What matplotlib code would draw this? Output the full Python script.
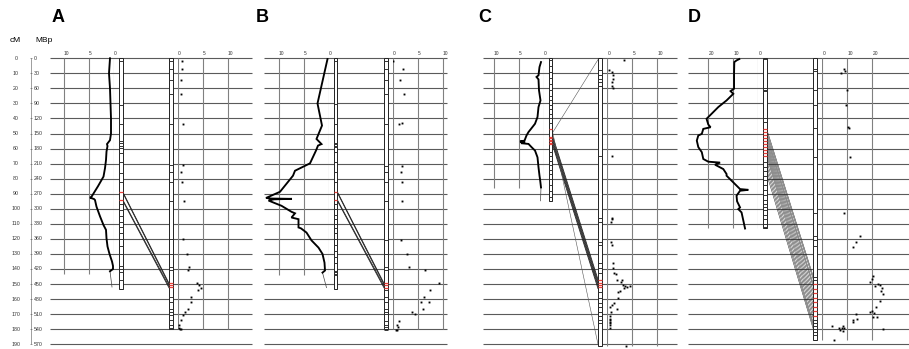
import matplotlib.pyplot as plt
from matplotlib.patches import Rectangle

plt.rcParams['font.family'] = ['Liberation Sans', 'DejaVu Sans']

W, H = 909, 349
Y0, K = 58.3, 1.505          # pixel row of 0 cM, pixels per cM
CM_TOP = -Y0 / K
CM_BOT = (H - Y0) / K

# ── data ────────────────────────────────────────────────────────────────────
cm_rows = [0, 10, 20, 30, 40, 50, 60, 70, 80, 90, 100, 110, 120, 130, 140,
           150, 160, 170, 180, 190]
mbp_rows = [0, 30, 60, 90, 120, 150, 180, 210, 240, 270, 300, 330, 360, 390,
            420, 450, 480, 510, 540, 570]

# panel A
A_prof_cm = [0, 5, 10, 20, 30, 40, 50, 54.4, 57, 58.3, 62, 67.6, 73, 78.6, 85,
             92, 92.6, 93.5, 94.2, 98.6, 105, 110.8, 114, 119.6, 125, 130, 135,
             138, 140, 141.5]
A_prof_val = [0.8, 0.9, 1.0, 0.8, 0.7, 0.6, 0.6, 0.8, 1.4, 1.3, 1.5, 1.6, 1.8,
              2.1, 3.2, 4.5, 4.8, 4.0, 3.8, 3.5, 2.8, 2.1, 1.6, 1.5, 1.3, 0.9,
              0.4, 0.2, 0.2, 0.8]
A_tail_cm = [141.5, 152]
A_tail_val = [0.8, 0.4]
A_sc_cm = [1.8, 7.3, 14.7, 24, 43.5, 70.9, 75.8, 82.4, 94.7, 120, 129.8, 138.7,
           140.7, 149, 150.7, 152.4, 154.2, 158.4, 162, 166.4, 168.4, 170.7,
           174.2, 176.9, 179, 180, 180]
A_sc_val = [0.75, 0.75, 0.6, 0.6, 0.9, 0.9, 0.6, 0.8, 1.1, 0.9, 1.7, 2.1, 1.9,
            3.7, 4.1, 4.5, 3.9, 2.6, 2.6, 1.9, 1.4, 0.9, 0.6, 0.1, 0.2, 0.4, 0.6]
A_lmarks = [1.8, 30.7, 43.5, 55, 56.5, 58, 59.5, 63, 69, 76, 82, 97, 101, 105,
            109, 112, 116, 120, 125, 130, 138, 140, 142, 147]
A_lred = [88.7, 94]
A_rmarks = [1.8, 7.3, 14.7, 24, 43.5, 70.9, 75.8, 82.4, 94.7, 120, 129.8, 138.7,
            140.7, 158.4, 162, 166.4, 168.4, 170.7, 174.2, 176.9, 179, 180]
A_rred = [149, 150.5, 152]
A_link_l = [88.7, 89.2, 94.0, 94.6]
A_link_r = [149.5, 150.3, 151.5, 152.5]
A_len = (153, 180, 143)       # left chromosome, right chromosome, profile span

# panel B
B_prof_cm = [0.5, 30, 44.7, 53.6, 57, 58, 61.3, 69.8, 74.7, 78, 88.7, 92.8,
             93.2, 93.4, 93.7, 94.5, 96, 98, 102, 103, 105.8, 106.9, 112.4, 113,
             115.8, 121, 125.8, 130, 135.8, 141, 142.4]
B_prof_val = [0.3, 2.3, 1.4, 2.5, 1.5, 2.2, 2.6, 3.8, 6.8, 7.2, 9.8, 12.6, 11.5,
              7.4, 11.0, 12.1, 11.0, 9.5, 7.5, 6.8, 7.5, 6.1, 6.1, 5.6, 4.5, 3.5,
              2.1, 1.3, 0.9, 0.8, 1.3]
B_tail_cm = [142.4, 152.4]
B_tail_val = [1.3, 0.5]
B_sc_cm = [1.8, 7.3, 14.7, 24, 43.5, 43, 71.3, 75.8, 82.4, 94.7, 120.7, 129.8,
           138.4, 140.7, 149, 150.7, 152.9, 154.2, 158.4, 162, 162, 166.4, 168.4,
           170.2, 174.7, 176.9, 178.4, 180.2, 180.5]
B_sc_val = [0.1, 2.1, 1.5, 2.3, 1.3, 1.8, 1.8, 1.6, 1.8, 1.8, 1.6, 2.8, 3.3,
            6.5, 9.3, 11.3, 12.5, 7.5, 6.3, 5.7, 7.3, 6.1, 3.8, 4.5, 1.3, 0.9,
            1.1, 0.8, 0.7]
B_lmarks = [1.8, 30.5, 43.5, 56, 57, 58, 59, 62.4, 68.7, 75.8, 82.4, 97, 100,
            104, 107, 110, 113, 116, 120, 124, 128, 132, 136, 141, 142, 143, 144]
B_lred = [88.7, 94]
B_rmarks = [1.8, 7.3, 14.7, 24, 43.5, 71.3, 75.8, 82.4, 94.7, 120.7, 129.8,
            138.4, 140.7, 154.2, 158.4, 162, 166.4, 168.4, 170.2, 174.7, 176.9,
            178.4, 180.2]
B_rred = [149, 150.7, 152.9]
B_link_l = [88.7, 89.2, 94.0, 94.6]
B_link_r = [149.5, 150.3, 151.5, 152.5]
B_len = (153, 180, 144)

# panel C
C_prof_cm = [2.5, 5.8, 11.3, 12.4, 14, 21.3, 28, 32.4, 39, 43.5, 46.9, 49, 51.3,
             54.7, 55.3, 55.6, 56.4, 56.9, 59, 61.3, 65.8, 72.4, 78, 80.2, 85.8]
C_prof_val = [0.6, 0.9, 1.1, 1.5, 1.1, 1.0, 0.7, 1.1, 1.3, 1.8, 2.6, 3.1, 3.5,
              3.9, 4.8, 3.8, 4.6, 3.1, 2.5, 1.8, 1.3, 1.1, 0.9, 0.8, 0.6]
C_tail_cm = [85.8, 94.7]
C_tail_val = [0.6, 0.7]
C_sc_cm = [0.9, 8, 9.1, 11.3, 13.6, 15.8, 18.7, 19.6, 64.7, 105.8, 106.9, 109,
           121.8, 124.2, 135.8, 139.6, 142.4, 143.6, 147.3, 148.7, 147.3, 150.7,
           151.3, 152, 151.3, 152.4, 154.7, 155, 159, 162.4, 164.2, 165, 166.4,
           168.4, 171.3, 173, 173.6, 175, 175.8, 177, 179, 191]
C_sc_val = [3.3, 0.4, 0.9, 1.2, 1.2, 0.9, 0.9, 1.1, 0.9, 1.0, 0.9, 0.7, 0.7,
            1.0, 1.2, 1.1, 1.4, 1.7, 2.0, 2.7, 3.0, 3.2, 3.5, 3.9, 4.5, 3.3, 2.5,
            2.1, 2.1, 1.3, 0.9, 0.5, 1.9, 0.7, 0.5, 0.5, 0.5, 0.5, 0.5, 0.5, 0.5,
            3.7]
C_lmarks = [1, 5, 9, 13, 17, 21, 25, 28, 31, 34, 37, 40, 43, 62, 65, 68, 71, 74,
            77, 80, 84, 88, 92]
C_lred = [46.7, 52, 53, 54, 55, 56, 57]
C_rmarks = [8, 11.3, 13.6, 15.8, 18.7, 64.7, 105.8, 109, 121.8, 124.2, 135.8,
            139.6, 142.4, 155, 159, 162.4, 165, 168.4, 171.3, 173.6, 175.8]
C_rred = [147, 149, 150.5, 152]
C_thin_l = [49.7, 48.0]
C_thin_r = [0.9, 190]
C_link_l = [51, 52.5, 54, 55.5, 57]
C_link_r = [147, 148.5, 150, 151.5, 153]
C_len = (95, 191, 86)

# panel D
D_prof_cm = [0.5, 1.3, 2.5, 10, 20.2, 21.8, 23.6, 28, 32.4, 36.9, 40.2, 44,
             45.8, 46.9, 50.2, 51.3, 54.7, 59, 62.4, 66.9, 68.7, 69.3, 70.7,
             73.6, 76.9, 78, 81.3, 86.9, 87.4, 88, 91.3, 95, 99.1, 100.2, 102.4,
             113.1]
D_prof_val = [7.6, 8.6, 9.6, 9.7, 9.7, 11.1, 10.0, 12.7, 16, 18.7, 20.7, 20,
              19.1, 22, 22.6, 24, 24.6, 24, 22.6, 22, 20, 15.3, 17.3, 14, 12.7,
              12.7, 10.7, 7.3, 4.0, 7.3, 8.7, 8.5, 7.3, 8.0, 6.7, 5.3]
D_sc_cm = [6.9, 8.4, 9.6, 20.9, 31.3, 45.8, 46.5, 65.8, 103, 118, 121.8, 125.1,
           144.7, 146.4, 148.7, 149.8, 150.7, 151.3, 152.4, 154.7, 156.9, 161.3,
           165.3, 168, 168.7, 169.1, 171.8, 171.8, 179.8, 169.8, 173.1, 173.6,
           175.1, 178, 179, 179.1, 179, 180.7, 181.3, 178, 186.9]
D_sc_val = [8.7, 9.1, 7.4, 9.8, 9.5, 10.2, 10.5, 11.1, 8.7, 15.1, 13.5, 12.2,
            20.4, 19.8, 19.1, 22.2, 23.1, 21.1, 23.8, 23.4, 24.2, 23.1, 21.5,
            19.8, 19.1, 20.7, 20.4, 22.0, 24.4, 13.5, 13.7, 12.4, 12.2, 8.4, 8.7,
            7.8, 6.7, 7.1, 8.2, 4.0, 4.7]
D_lmarks = [0.5, 19.5, 21, 22, 40, 42, 69, 72, 75, 78, 81, 84, 87.7, 91, 94, 97,
            99, 101, 104, 107, 110, 112]
D_lred = [47, 49, 51, 53, 55, 57, 59, 61, 63, 65]
D_rmarks = [7, 8.5, 21, 31, 46, 65.5, 103, 118, 121, 125, 145, 147, 174, 176,
            178, 180, 182, 184]
D_rred = [150, 153, 156, 159, 162, 165, 168, 171]
D_link_l = [47, 49, 51, 53, 55, 57, 59, 61, 63, 65, 68, 71, 74, 77]
D_link_r = [145, 147, 150, 152, 155, 158, 161, 164, 167, 170, 173, 176, 178, 180]
D_len = (113, 187, 113)

# ── layout (pixels) ─────────────────────────────────────────────────────────
panels = [
    dict(title="A", tx=58, hl=(50, 252), lz=114, lppu=5, lticks=[10, 5, 0],
         lbar=(119, 122.7), rbar=(169, 173), rz=178, rppu=5, rticks=[0, 5, 10],
         prof=(A_prof_cm, A_prof_val), tail=(A_tail_cm, A_tail_val),
         sc=(A_sc_cm, A_sc_val), lm=(A_lmarks, A_lred), rm=(A_rmarks, A_rred),
         links=(A_link_l, A_link_r), link_lw=0.6, thin=None, length=A_len),
    dict(title="B", tx=262, hl=(264, 447), lz=329, lppu=5, lticks=[10, 5, 0],
         lbar=(333.7, 337.3), rbar=(384, 387.5), rz=392.7, rppu=5,
         rticks=[0, 5, 10],
         prof=(B_prof_cm, B_prof_val), tail=(B_tail_cm, B_tail_val),
         sc=(B_sc_cm, B_sc_val), lm=(B_lmarks, B_lred), rm=(B_rmarks, B_rred),
         links=(B_link_l, B_link_r), link_lw=0.6, thin=None, length=B_len),
    dict(title="C", tx=485, hl=(483, 677), lz=544, lppu=5, lticks=[10, 5, 0],
         lbar=(548.7, 552.3), rbar=(598, 602.3), rz=607.3, rppu=5,
         rticks=[0, 5, 10],
         prof=(C_prof_cm, C_prof_val), tail=(C_tail_cm, C_tail_val),
         sc=(C_sc_cm, C_sc_val), lm=(C_lmarks, C_lred), rm=(C_rmarks, C_rred),
         links=(C_link_l, C_link_r), link_lw=0.6, thin=(C_thin_l, C_thin_r),
         length=C_len),
    dict(title="D", tx=694, hl=(688, 909), lz=758.3, lppu=2.5,
         lticks=[20, 10, 0], lbar=(762.7, 766.7), rbar=(813.3, 817.3),
         rz=822.3, rppu=2.5, rticks=[0, 10, 20],
         prof=(D_prof_cm, D_prof_val), tail=None,
         sc=(D_sc_cm, D_sc_val), lm=(D_lmarks, D_lred), rm=(D_rmarks, D_rred),
         links=(D_link_l, D_link_r), link_lw=0.35, thin=None, length=D_len),
]

GRID_H = "#5a5a5a"
GRID_V = "#808080"

fig = plt.figure(figsize=(W / 100, H / 100), dpi=100)

bg = fig.add_axes([0, 0, 1, 1])
bg.set_xlim(0, W)
bg.set_ylim(CM_BOT, CM_TOP)
bg.axis("off")


def strip_axes(x0, x1, xlim):
    ax = fig.add_axes([x0 / W, 0, (x1 - x0) / W, 1])
    ax.set_xlim(*xlim)
    ax.set_ylim(CM_BOT, CM_TOP)
    ax.axis("off")
    ax.patch.set_visible(False)
    return ax


def chrom_bar(x0, x1, length, marks, reds):
    bg.add_patch(Rectangle((x0, 0), x1 - x0, length, facecolor="white",
                           edgecolor="#222222", lw=0.7, zorder=3))
    bg.hlines(marks, x0, x1, color="#333333", lw=0.7, zorder=4)
    bg.hlines(reds, x0, x1, color="#e8403a", lw=0.9, zorder=4)


# row labels
fig.text(15 / W, 1 - 40 / H, "cM", fontsize=6, ha="center", va="center")
fig.text(35 / W, 1 - 40 / H, "MBp", fontsize=6, ha="left", va="center")
for c, m in zip(cm_rows, mbp_rows):
    bg.text(16, c, str(c), fontsize=3.8, ha="center", va="center", color="#333333")
    bg.text(33.5, c, str(m), fontsize=3.8, ha="left", va="center", color="#333333")
bg.vlines(31, 0, cm_rows[-1], color="#555555", lw=0.4)
bg.hlines(cm_rows, 30, 32, color="#555555", lw=0.4)

for p in panels:
    x0, x1 = p["hl"]
    llen, rlen, glen = p["length"]
    fig.text(p["tx"] / W, 1 - 18 / H, p["title"], fontsize=13,
             fontweight="bold", ha="center", va="center")

    # horizontal grid
    bg.hlines(cm_rows, x0, x1, color=GRID_H, lw=0.8, zorder=1)

    # left profile strip
    lmax = (p["lz"] - x0) / p["lppu"]
    axl = strip_axes(x0, p["lz"], (lmax, 0))
    axl.vlines(p["lticks"], 0, glen, color=GRID_V, lw=0.8)
    for t in p["lticks"]:
        axl.text(t, -3.5, str(t), fontsize=3.5, ha="left", va="center",
                 color="#333333")
    axl.plot(p["prof"][1], p["prof"][0], color="black", lw=1.35,
             solid_joinstyle="miter", zorder=5)
    if p["tail"]:
        axl.plot(p["tail"][1], p["tail"][0], color="#444444", lw=0.5)

    # right scatter strip
    rmax = (x1 - p["rz"]) / p["rppu"]
    axr = strip_axes(p["rz"], x1, (0, rmax))
    axr.vlines(p["rticks"], 0, rlen, color=GRID_V, lw=0.8)
    for t in p["rticks"]:
        axr.text(t, -3.5, str(t), fontsize=3.5, ha="left", va="center",
                 color="#333333")
    axr.plot(p["sc"][1], p["sc"][0], "s", color="black", ms=1.35, mew=0)

    # chromosome bars
    chrom_bar(p["lbar"][0], p["lbar"][1], llen, *p["lm"])
    chrom_bar(p["rbar"][0], p["rbar"][1], rlen, *p["rm"])

    # homology links
    for a, b in zip(*p["links"]):
        bg.plot([p["lbar"][1], p["rbar"][0]], [a, b], color="#222222",
                lw=p["link_lw"], zorder=2)
    if p["thin"]:
        for a, b in zip(*p["thin"]):
            bg.plot([p["lbar"][1], p["rbar"][0]], [a, b], color="#555555",
                    lw=0.4, zorder=2)

fig.savefig("out.png", dpi=100)
